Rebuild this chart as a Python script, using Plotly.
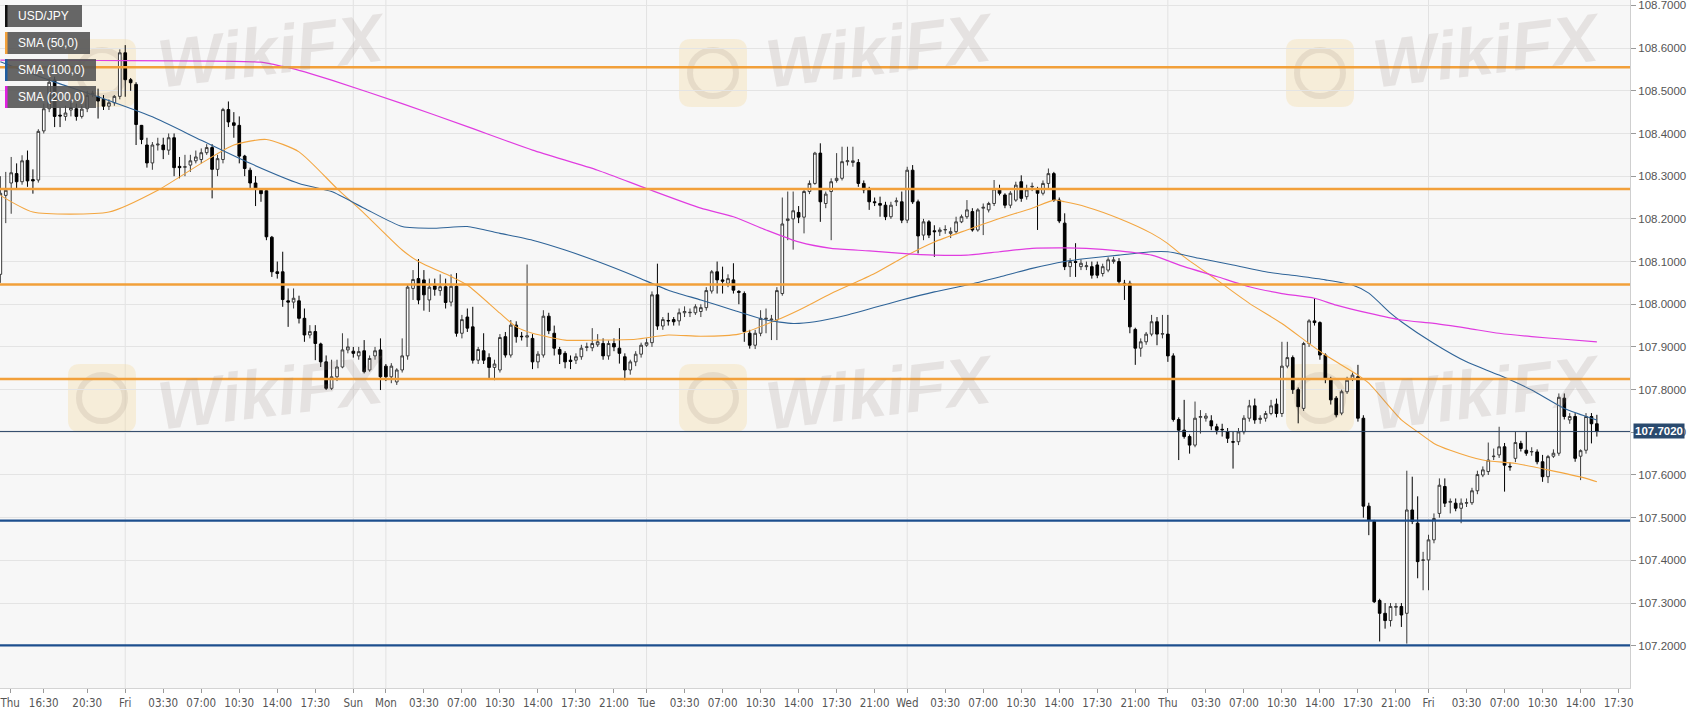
import plotly.graph_objects as go

# ---------------- data (30-minute USD/JPY candles, index 0 = Thu 12:30) ----------------
opens = [108.07,108.255,108.284,108.306,108.287,108.337,108.292,108.291,108.406,108.458,
108.525,108.443,108.44,108.455,108.458,108.44,108.458,108.492,108.486,108.48,
108.464,108.472,108.487,108.589,108.526,108.515,108.419,108.373,108.331,108.373,
108.373,108.361,108.39,108.323,108.321,108.326,108.336,108.339,108.355,108.367,
108.316,108.339,108.456,108.425,108.419,108.347,108.314,108.284,108.267,108.266,
108.157,108.076,108.076,108.008,108.005,108.008,107.967,107.928,107.936,107.907,
107.865,107.803,107.83,107.853,107.893,107.89,107.879,107.891,107.846,107.879,
107.893,107.855,107.83,107.818,107.846,107.879,108.037,108.06,108.057,108.01,
108.043,108.032,108.041,108.005,108.042,107.932,107.97,107.947,107.869,107.891,
107.875,107.852,107.846,107.924,107.881,107.951,107.925,107.923,107.92,107.865,
107.881,107.972,107.932,107.894,107.885,107.869,107.869,107.877,107.899,107.898,
107.905,107.908,107.879,107.908,107.897,107.877,107.846,107.865,107.883,107.904,
107.91,108.022,107.949,107.962,107.964,107.961,107.98,107.98,107.98,107.983,
107.992,108.031,108.076,108.057,108.049,108.057,108.03,108.025,107.932,107.904,
107.932,107.965,107.963,107.963,108.025,108.196,108.2,108.215,108.204,108.264,
108.283,108.354,108.236,108.264,108.29,108.295,108.334,108.332,108.332,108.283,
108.268,108.24,108.236,108.232,108.205,108.24,108.24,108.197,108.314,108.24,
108.162,108.193,108.172,108.17,108.174,108.166,108.17,108.193,108.205,108.217,
108.174,108.225,108.221,108.236,108.268,108.256,108.232,108.244,108.287,108.252,
108.275,108.268,108.26,108.283,108.306,108.244,108.19,108.088,108.10,108.088,
108.088,108.088,108.092,108.072,108.08,108.10,108.10,108.049,108.049,107.941,
107.897,107.912,107.93,107.959,107.93,107.93,107.879,107.73,107.705,107.69,
107.67,107.735,107.733,107.727,107.713,107.707,107.701,107.678,107.678,107.701,
107.733,107.762,107.73,107.733,107.744,107.766,107.744,107.855,107.875,107.80,
107.756,107.908,107.961,107.957,107.881,107.824,107.78,107.745,107.795,107.826,
107.83,107.733,107.527,107.491,107.306,107.276,107.259,107.29,107.292,107.276,
107.518,107.487,107.40,107.401,107.448,107.51,107.573,107.536,107.534,107.522,
107.534,107.535,107.563,107.60,107.608,107.643,107.647,107.666,107.62,107.639,
107.674,107.658,107.654,107.654,107.631,107.596,107.644,107.651,107.78,107.729,
107.737,107.644,107.658,107.737,107.72]
highs = [108.30,108.31,108.345,108.33,108.349,108.36,108.316,108.41,108.47,108.53,
108.533,108.461,108.465,108.475,108.47,108.465,108.50,108.50,108.505,108.49,
108.48,108.49,108.597,108.607,108.53,108.52,108.42,108.39,108.38,108.39,
108.39,108.40,108.40,108.345,108.35,108.35,108.36,108.365,108.375,108.375,
108.35,108.46,108.475,108.45,108.44,108.35,108.32,108.30,108.27,108.268,
108.16,108.10,108.123,108.037,108.037,108.02,107.99,107.951,107.951,107.91,
107.88,107.87,107.87,107.932,107.92,107.90,107.90,107.916,107.88,107.90,
107.92,107.86,107.862,107.85,107.92,108.045,108.08,108.106,108.08,108.06,
108.06,108.07,108.06,108.07,108.073,107.975,107.99,107.994,107.90,107.932,
107.885,107.87,107.93,107.935,107.963,107.96,107.935,108.093,107.93,107.89,
107.986,107.98,107.95,107.90,107.89,107.88,107.885,107.905,107.91,107.944,
107.93,107.92,107.915,107.92,107.944,107.885,107.87,107.89,107.91,107.92,
108.03,108.095,107.97,107.98,107.97,107.99,107.995,107.99,108.0,108.0,
108.04,108.08,108.10,108.088,108.07,108.096,108.033,108.03,107.94,107.94,
107.986,107.99,107.975,108.04,108.25,108.264,108.264,108.23,108.27,108.29,
108.357,108.377,108.264,108.295,108.354,108.369,108.369,108.369,108.34,108.29,
108.275,108.25,108.252,108.24,108.24,108.25,108.264,108.322,108.326,108.245,
108.20,108.197,108.185,108.18,108.185,108.18,108.205,108.21,108.244,108.225,
108.225,108.236,108.24,108.291,108.28,108.26,108.265,108.287,108.302,108.28,
108.285,108.275,108.29,108.318,108.31,108.25,108.213,108.108,108.143,108.105,
108.10,108.10,108.10,108.095,108.11,108.111,108.108,108.057,108.055,107.945,
107.92,107.935,107.975,107.97,107.975,107.975,107.885,107.735,107.776,107.695,
107.772,107.752,107.745,107.74,107.72,107.72,107.71,107.701,107.71,107.74,
107.776,107.779,107.74,107.75,107.776,107.779,107.912,107.912,107.88,107.805,
107.912,107.965,108.014,107.96,107.885,107.83,107.785,107.80,107.83,107.84,
107.858,107.74,107.535,107.495,107.31,107.30,107.30,107.30,107.30,107.61,
107.596,107.55,107.42,107.46,107.51,107.592,107.592,107.545,107.545,107.545,
107.545,107.57,107.61,107.62,107.676,107.662,107.713,107.675,107.63,107.701,
107.68,107.701,107.665,107.66,107.647,107.647,107.66,107.791,107.791,107.745,
107.745,107.66,107.745,107.745,107.741]
lows = [108.05,108.19,108.212,108.27,108.28,108.275,108.259,108.285,108.40,108.45,
108.415,108.415,108.43,108.44,108.43,108.435,108.45,108.485,108.435,108.455,
108.455,108.465,108.48,108.486,108.50,108.373,108.375,108.32,108.315,108.36,
108.34,108.35,108.30,108.295,108.30,108.31,108.33,108.33,108.35,108.248,
108.30,108.33,108.415,108.39,108.33,108.30,108.27,108.23,108.24,108.15,
108.064,108.06,107.994,107.947,107.99,107.955,107.912,107.92,107.869,107.853,
107.799,107.799,107.82,107.85,107.885,107.875,107.87,107.838,107.842,107.87,
107.799,107.82,107.815,107.811,107.84,107.87,108.01,108.0,107.985,107.982,
108.02,108.02,107.99,107.995,107.924,107.92,107.935,107.861,107.86,107.86,
107.826,107.822,107.84,107.875,107.875,107.91,107.915,107.90,107.848,107.85,
107.875,107.93,107.88,107.86,107.85,107.848,107.86,107.87,107.89,107.89,
107.90,107.87,107.87,107.89,107.861,107.822,107.835,107.855,107.875,107.90,
107.90,107.94,107.94,107.95,107.95,107.95,107.97,107.97,107.975,107.97,
107.985,108.025,108.025,108.025,108.04,108.025,108.0,107.912,107.896,107.895,
107.925,107.932,107.916,107.916,108.02,108.15,108.128,108.19,108.166,108.258,
108.28,108.193,108.225,108.15,108.285,108.29,108.325,108.322,108.275,108.26,
108.221,108.23,108.205,108.197,108.20,108.23,108.19,108.19,108.235,108.119,
108.15,108.155,108.111,108.16,108.165,108.155,108.165,108.19,108.20,108.17,
108.17,108.162,108.215,108.23,108.255,108.225,108.225,108.24,108.24,108.245,
108.265,108.174,108.255,108.27,108.24,108.19,108.08,108.064,108.064,108.08,
108.08,108.06,108.061,108.065,108.075,108.095,108.045,108.01,107.932,107.858,
107.877,107.905,107.925,107.904,107.92,107.865,107.725,107.635,107.685,107.65,
107.665,107.697,107.725,107.705,107.695,107.69,107.675,107.615,107.67,107.695,
107.725,107.72,107.72,107.725,107.74,107.735,107.736,107.85,107.79,107.721,
107.75,107.90,107.95,107.87,107.815,107.765,107.735,107.74,107.79,107.82,
107.725,107.50,107.459,107.30,107.21,107.24,107.245,107.27,107.244,107.205,
107.485,107.358,107.33,107.33,107.44,107.50,107.525,107.51,107.515,107.487,
107.525,107.53,107.555,107.595,107.60,107.635,107.64,107.561,107.61,107.63,
107.655,107.645,107.645,107.625,107.584,107.581,107.64,107.645,107.73,107.72,
107.631,107.588,107.65,107.674,107.69]
closes = [108.26,108.267,108.308,108.287,108.336,108.289,108.289,108.405,108.458,108.52,
108.44,108.441,108.448,108.461,108.44,108.457,108.489,108.494,108.476,108.464,
108.472,108.487,108.589,108.526,108.519,108.421,108.386,108.331,108.373,108.375,
108.362,108.39,108.32,108.32,108.322,108.336,108.345,108.355,108.367,108.316,
108.341,108.456,108.427,108.419,108.347,108.318,108.284,108.269,108.259,108.158,
108.076,108.072,108.011,108.005,108.014,107.967,107.928,107.936,107.908,107.865,
107.803,107.83,107.853,107.893,107.90,107.885,107.889,107.842,107.873,107.891,
107.83,107.83,107.855,107.846,107.879,108.04,108.058,108.01,108.022,108.04,
108.035,108.041,108.004,108.042,107.932,107.964,107.944,107.869,107.894,107.869,
107.852,107.86,107.922,107.881,107.951,107.924,107.924,107.926,107.865,107.883,
107.972,107.938,107.897,107.883,107.865,107.866,107.877,107.897,107.90,107.908,
107.912,107.879,107.908,107.90,107.885,107.846,107.865,107.883,107.904,107.91,
108.022,107.949,107.964,107.961,107.959,107.98,107.983,107.981,107.994,107.992,
108.032,108.076,108.057,108.054,108.06,108.033,108.028,107.936,107.904,107.932,
107.967,107.967,107.965,108.032,108.188,108.20,108.219,108.204,108.264,108.283,
108.354,108.24,108.258,108.287,108.295,108.334,108.336,108.336,108.283,108.268,
108.24,108.238,108.232,108.205,108.232,108.242,108.197,108.314,108.24,108.16,
108.193,108.162,108.17,108.174,108.175,108.17,108.193,108.205,108.221,108.174,
108.221,108.227,108.236,108.27,108.26,108.232,108.26,108.279,108.248,108.268,
108.276,108.26,108.283,108.306,108.244,108.195,108.088,108.10,108.098,108.096,
108.09,108.068,108.068,108.088,108.104,108.104,108.053,108.045,107.947,107.897,
107.912,107.93,107.959,107.93,107.931,107.879,107.73,107.705,107.69,107.67,
107.733,107.737,107.738,107.715,107.705,107.706,107.686,107.677,107.701,107.733,
107.762,107.729,107.733,107.744,107.762,107.744,107.855,107.875,107.80,107.76,
107.908,107.961,107.957,107.881,107.824,107.776,107.741,107.795,107.822,107.834,
107.733,107.527,107.494,107.303,107.276,107.259,107.292,107.292,107.272,107.518,
107.491,107.397,107.401,107.448,107.498,107.576,107.534,107.538,107.522,107.534,
107.535,107.563,107.601,107.612,107.635,107.644,107.666,107.623,107.619,107.676,
107.662,107.651,107.655,107.631,107.596,107.643,107.651,107.782,107.737,107.737,
107.639,107.657,107.737,107.72,107.702]

sma50_idx = [0,6,20,29,37,43,49,55,62,67,74,77,83,86,92,95,98,104,110,117,123,129,136,143,147,153,161,167,172,178,184,190,194,196,200,206,212,215,218,224,230,236,241,244,250,252,258,261,264,267,273,279,285,292,294]
sma50_val = [108.255,108.216,108.216,108.267,108.33,108.373,108.386,108.357,108.271,108.213,108.127,108.10,108.065,108.045,107.979,107.947,107.932,107.916,107.916,107.918,107.928,107.925,107.93,107.963,107.986,108.025,108.072,108.115,108.146,108.174,108.201,108.225,108.244,108.24,108.228,108.201,108.166,108.142,108.111,108.057,108.002,107.955,107.908,107.881,107.834,107.815,107.729,107.701,107.674,107.658,107.635,107.627,107.612,107.592,107.584]
sma100_idx = [0,9,18,28,37,46,55,61,67,74,80,86,92,98,104,110,117,123,129,135,141,146,150,156,166,172,178,184,190,196,200,206,212,215,221,227,233,239,244,249,252,256,258,264,270,276,282,288,294]
sma100_val = [108.568,108.525,108.486,108.439,108.384,108.33,108.283,108.264,108.225,108.182,108.178,108.182,108.166,108.15,108.127,108.10,108.065,108.033,108.01,107.986,107.963,107.955,107.959,107.975,108.01,108.029,108.045,108.064,108.084,108.10,108.107,108.115,108.123,108.123,108.107,108.092,108.076,108.066,108.057,108.045,108.026,107.979,107.959,107.908,107.865,107.834,107.799,107.756,107.729]
sma200_idx = [0,18,48,52,55,61,74,86,98,110,119,129,135,141,147,153,160,166,172,178,184,190,196,200,206,212,218,224,230,236,242,246,252,258,264,270,276,282,288,294]
sma200_val = [108.572,108.571,108.567,108.557,108.548,108.525,108.47,108.416,108.361,108.314,108.271,108.225,108.205,108.174,108.146,108.131,108.125,108.119,108.115,108.115,108.123,108.131,108.132,108.131,108.125,108.115,108.088,108.065,108.041,108.025,108.014,107.998,107.979,107.963,107.955,107.944,107.932,107.924,107.918,107.912]

resistance_levels = [108.555, 108.27, 108.046, 107.825]
support_levels = [107.493, 107.201]
last_price = 107.702

x_tick_pos = [1.8,8,16,23,30,37,44,51,58,65,71,78,85,92,99,106,113,119,126,133,140,147,154,161,
              167,174,181,188,195,202,209,215,222,229,236,243,250,257,263,270,277,284,291,298]
x_tick_text = ["Thu","16:30","20:30","Fri","03:30","07:00","10:30","14:00","17:30","Sun","Mon",
               "03:30","07:00","10:30","14:00","17:30","21:00","Tue","03:30","07:00","10:30","14:00",
               "17:30","21:00","Wed","03:30","07:00","10:30","14:00","17:30","21:00","Thu","03:30",
               "07:00","10:30","14:00","17:30","21:00","Fri","03:30","07:00","10:30","14:00","17:30"]
day_grid_pos = [23, 65, 71, 119, 167, 215, 263]
y_tick_vals = [107.2,107.3,107.4,107.5,107.6,107.7,107.8,107.9,108.0,108.1,108.2,108.3,108.4,108.5,108.6,108.7]
legend_labels = ["USD/JPY", "SMA (50,0)", "SMA (100,0)", "SMA (200,0)"]

# ---------------- geometry / style ----------------
W, H = 1707, 712
PL, PT, PW, PH = 0, 0, 1630, 688   # plot area in px
def px(x):
    return x / PW
def py(y):
    return 1 - y / PH

C_ORANGE = "#f2a03a"
C_BLUE_LVL = "#1d4f8e"
C_SMA50 = "#f3a640"
C_SMA100 = "#2f6498"
C_SMA200 = "#e03ce0"
FONT = "Liberation Sans, Arial, sans-serif"

fig = go.Figure()

fig.add_trace(go.Candlestick(
    x=list(range(len(opens))), open=opens, high=highs, low=lows, close=closes,
    increasing=dict(line=dict(color="#3a3a3a", width=1), fillcolor="#ffffff"),
    decreasing=dict(line=dict(color="#000000", width=1), fillcolor="#000000"),
    whiskerwidth=0, showlegend=False, hoverinfo="skip"))

for idx, val, col, wd in [(sma50_idx, sma50_val, C_SMA50, 1.1),
                          (sma100_idx, sma100_val, C_SMA100, 1.1),
                          (sma200_idx, sma200_val, C_SMA200, 1.2)]:
    fig.add_trace(go.Scatter(x=idx, y=val, mode="lines",
                             line=dict(color=col, width=wd, shape="spline", smoothing=0.6),
                             showlegend=False, hoverinfo="skip"))

shapes = []
# day grid lines
for d in day_grid_pos:
    shapes.append(dict(type="line", xref="x", yref="paper", x0=d, x1=d, y0=0, y1=1,
                       line=dict(color="#e2e2e2", width=1), layer="below"))
# watermark logos (rounded square badge with a ring)
logo_centers = [(102, 73), (713, 73), (1320, 73), (102, 398), (713, 398), (1320, 398)]
for cx, cy in logo_centers:
    s = 34
    r = 12
    pts = (f"M {px(cx-s+r)},{py(cy-s)} L {px(cx+s-r)},{py(cy-s)} Q {px(cx+s)},{py(cy-s)} {px(cx+s)},{py(cy-s+r)} "
           f"L {px(cx+s)},{py(cy+s-r)} Q {px(cx+s)},{py(cy+s)} {px(cx+s-r)},{py(cy+s)} L {px(cx-s+r)},{py(cy+s)} "
           f"Q {px(cx-s)},{py(cy+s)} {px(cx-s)},{py(cy+s-r)} L {px(cx-s)},{py(cy-s+r)} Q {px(cx-s)},{py(cy-s)} {px(cx-s+r)},{py(cy-s)} Z")
    shapes.append(dict(type="path", xref="paper", yref="paper", path=pts,
                       fillcolor="rgba(246,214,150,0.30)", line=dict(width=0), layer="below"))
    shapes.append(dict(type="circle", xref="paper", yref="paper",
                       x0=px(cx-23), x1=px(cx+23), y0=py(cy+23), y1=py(cy-23),
                       fillcolor="rgba(0,0,0,0)", line=dict(color="rgba(200,185,170,0.35)", width=6), layer="below"))
# support / resistance lines
for lv in resistance_levels:
    shapes.append(dict(type="line", xref="paper", yref="y", x0=0, x1=1, y0=lv, y1=lv,
                       line=dict(color=C_ORANGE, width=2.5)))
for lv in support_levels:
    shapes.append(dict(type="line", xref="paper", yref="y", x0=0, x1=1, y0=lv, y1=lv,
                       line=dict(color=C_BLUE_LVL, width=2.2)))
shapes.append(dict(type="line", xref="paper", yref="y", x0=0, x1=1, y0=last_price, y1=last_price,
                   line=dict(color="#2b4668", width=1)))
# legend boxes
box_rows = [(5, 27, 82, "#111111"), (32, 54, 90, C_ORANGE), (59, 81, 96, "#1f5da0"), (86, 108, 96, "#e020e0")]
for (y0, y1, x1, col) in box_rows:
    shapes.append(dict(type="rect", xref="paper", yref="paper", x0=px(5), x1=px(x1), y0=py(y1), y1=py(y0),
                       fillcolor="rgba(82,82,82,0.88)", line=dict(width=0), layer="above"))
    shapes.append(dict(type="rect", xref="paper", yref="paper", x0=px(5), x1=px(7.5), y0=py(y1), y1=py(y0),
                       fillcolor=col, line=dict(width=0), layer="above"))

annotations = []
wm_centers = [(272, 50), (880, 50), (1487, 50), (272, 392), (880, 392), (1487, 392)]
for cx, cy in wm_centers:
    annotations.append(dict(xref="paper", yref="paper", x=px(cx), y=py(cy), text="<b><i>WikiFX</i></b>",
                            showarrow=False, textangle=-7, xanchor="center", yanchor="middle",
                            font=dict(family=FONT, size=68, color="rgba(150,135,128,0.18)")))
for (y0, y1, x1, col), lab in zip(box_rows, legend_labels):
    annotations.append(dict(xref="paper", yref="paper", x=px(16), y=py((y0 + y1) / 2), text=lab,
                            showarrow=False, xanchor="left", yanchor="middle",
                            font=dict(family=FONT, size=12, color="#ffffff")))
annotations.append(dict(xref="paper", yref="y", x=px(1633), y=last_price, text=f"<b>{last_price:.4f}</b>",
                        showarrow=False, xanchor="left", yanchor="middle", bgcolor="#2a4a6e", borderpad=1,
                        font=dict(family=FONT, size=11.5, color="#ffffff")))

fig.update_layout(
    width=W, height=H,
    margin=dict(l=PL, r=W - PW, t=PT, b=H - PH),
    paper_bgcolor="#ffffff", plot_bgcolor="#f7f7f7",
    showlegend=False,
    shapes=shapes, annotations=annotations,
    xaxis=dict(range=[-0.06, 300.1], rangeslider=dict(visible=False), showgrid=False, zeroline=False,
               tickmode="array", tickvals=x_tick_pos, ticktext=x_tick_text,
               ticks="outside", ticklen=4, tickcolor="#9a9a9a", ticklabeloverflow="allow",
               showline=True, linecolor="#d4d4d4", mirror=True,
               tickfont=dict(family="Liberation Sans Narrow, Arial Narrow, DejaVu Sans Condensed, sans-serif",
                             size=11.5, color="#555555")),
    yaxis=dict(range=[107.101, 108.7127], side="right", showgrid=True, gridcolor="#e4e4e4", zeroline=False,
               tickmode="array", tickvals=y_tick_vals, ticktext=[f"{v:.4f}" for v in y_tick_vals],
               ticks="outside", ticklen=5, tickcolor="#9a9a9a", ticklabeloverflow="allow",
               showline=True, linecolor="#cfcfcf",
               tickfont=dict(family=FONT, size=11.5, color="#555555")),
)

fig.write_html("out.html", config={"displayModeBar": False},
               post_script="document.body.style.margin='0';document.body.style.overflow='hidden';")
